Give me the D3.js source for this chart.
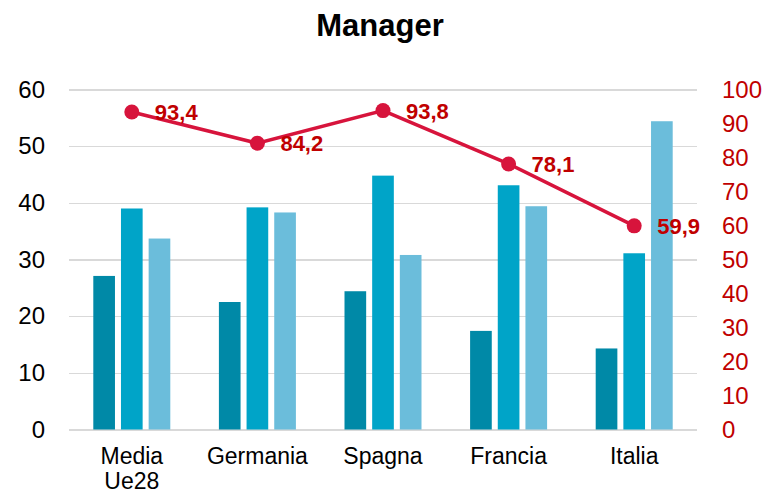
<!DOCTYPE html>
<meta charset="utf-8">
<head>
<script src="https://d3js.org/d3.v7.min.js"></script>
<style>
  body { margin: 0; background: #fff; }
  svg text { font-family: "Liberation Sans", Arial, sans-serif; }
  .grid line { stroke: #d9d9d9; stroke-width: 1.3; shape-rendering: crispEdges; }
  .grid path { stroke-width: 0; }
  .axis path, .axis line { display: none; }
</style>
</head>
<body>
<script>

// data
var categories = ["Media Ue28", "Germania", "Spagna", "Francia", "Italia"];
var serie1 = [27.1, 22.5, 24.4, 17.4, 14.3];
var serie2 = [39.0, 39.2, 44.8, 43.1, 31.1];
var serie3 = [33.7, 38.3, 30.8, 39.4, 54.4];
var manager = [93.4, 84.2, 93.8, 78.1, 59.9];
var leftTicks = [0, 10, 20, 30, 40, 50, 60];
var rightTicks = [0, 10, 20, 30, 40, 50, 60, 70, 80, 90, 100];

var barColors = ["#0089a7", "#00a4c8", "#6bbddb"];
var lineColor = "#d7143c";
var labelRed = "#c00000";

var margin = {top: 89.5, right: 68, bottom: 63.5, left: 69},
    width = 765 - margin.left - margin.right,
    height = 493 - margin.top - margin.bottom;

var svg = d3.select("body").append("svg")
    .attr("width", 765)
    .attr("height", 493);

// title
svg.append("text")
    .attr("x", 380)
    .attr("y", 36)
    .attr("text-anchor", "middle")
    .style("font-size", "31px")
    .style("font-weight", "bold")
    .text("Manager");

var g = svg.append("g")
    .attr("transform", "translate(" + margin.left + "," + margin.top + ")");

// scales
var x = d3.scaleBand().domain(categories).range([0, width]);
var inner = d3.scaleBand().domain([0, 1, 2]).range([24.3, x.bandwidth() - 24.3]).paddingInner(0.217);
var yL = d3.scaleLinear().domain([0, 60]).range([height, 0]);
var yR = d3.scaleLinear().domain([0, 100]).range([height, 0]);

// gridlines
g.append("g")
    .attr("class", "grid")
    .call(d3.axisLeft(yL).tickValues(leftTicks).tickSize(-width).tickFormat(""));

// bars
var series = [serie1, serie2, serie3];
series.forEach(function(s, i) {
  g.selectAll(".bar" + i)
      .data(s)
    .enter().append("rect")
      .attr("class", "bar" + i)
      .attr("x", function(d, j) { return x(categories[j]) + inner(i); })
      .attr("width", inner.bandwidth())
      .attr("y", function(d) { return yL(d); })
      .attr("height", function(d) { return height - yL(d); })
      .attr("fill", barColors[i]);
});

// left axis
var axL = g.append("g")
    .attr("class", "axis")
    .call(d3.axisLeft(yL).tickValues(leftTicks).tickSize(0).tickPadding(24));
axL.selectAll("text")
    .style("font-size", "24px")
    .attr("fill", "#000");

// right axis
var axR = g.append("g")
    .attr("class", "axis")
    .attr("transform", "translate(" + width + ",0)")
    .call(d3.axisRight(yR).tickValues(rightTicks).tickSize(0).tickPadding(25));
axR.selectAll("text")
    .style("font-size", "24px")
    .attr("fill", labelRed);

// bottom axis
var axB = g.append("g")
    .attr("class", "axis")
    .attr("transform", "translate(0," + height + ")")
    .call(d3.axisBottom(x).tickSize(0).tickPadding(18));
axB.selectAll("text")
    .style("font-size", "23px")
    .attr("fill", "#000")
    .each(function(d) {
      var t = d3.select(this), words = d.split(" ");
      if (words.length > 1) {
        t.text(null);
        words.forEach(function(w, k) {
          t.append("tspan").attr("x", 0).attr("dy", k === 0 ? "0.71em" : "1.1em").text(w);
        });
        t.attr("dy", null);
      }
    });

// line
var line = d3.line()
    .x(function(d, j) { return x(categories[j]) + x.bandwidth() / 2; })
    .y(function(d) { return yR(d); });

g.append("path")
    .datum(manager)
    .attr("d", line)
    .attr("fill", "none")
    .attr("stroke", lineColor)
    .attr("stroke-width", 3.5);

g.selectAll(".dot")
    .data(manager)
  .enter().append("circle")
    .attr("class", "dot")
    .attr("r", 7.5)
    .attr("cx", function(d, j) { return x(categories[j]) + x.bandwidth() / 2; })
    .attr("cy", function(d) { return yR(d); })
    .attr("fill", lineColor);

g.selectAll(".lbl")
    .data(manager)
  .enter().append("text")
    .attr("class", "lbl")
    .attr("x", function(d, j) { return x(categories[j]) + x.bandwidth() / 2 + 23; })
    .attr("y", function(d) { return yR(d); })
    .attr("dy", "0.36em")
    .style("font-size", "22px")
    .style("font-weight", "bold")
    .attr("fill", labelRed)
    .text(function(d) { return d3.format(".1f")(d).replace(".", ","); });

</script>
</body>
